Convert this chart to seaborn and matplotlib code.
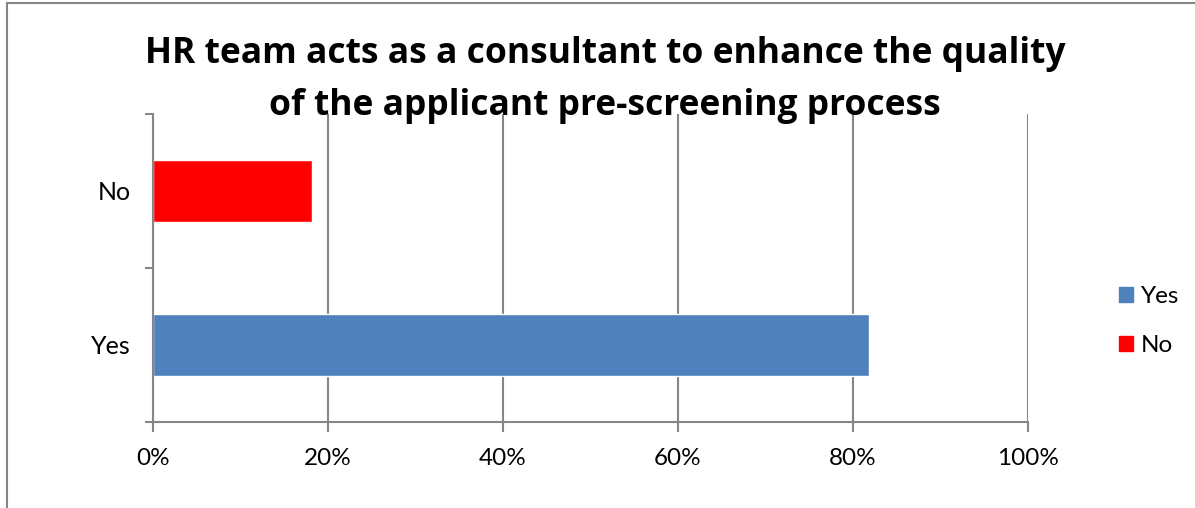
import matplotlib
matplotlib.use("Agg")
import matplotlib.pyplot as plt
import matplotlib.patches as patches
import seaborn as sns
import pandas as pd

# data
answers = ["No", "Yes"]
shares = [18.2, 81.8]
colors = {"Yes": "#4f81bd", "No": "#ff0000"}
x_ticks = [0, 20, 40, 60, 80, 100]
title = "HR team acts as a consultant to enhance the quality\nof the applicant pre-screening process"

df = pd.DataFrame({"answer": answers, "share": shares})

sns.set_style("white")
plt.rcParams['font.family'] = ['Lato', 'DejaVu Sans']
plt.rcParams['text.color'] = 'black'
plt.rcParams['xtick.labelcolor'] = 'black'
plt.rcParams['ytick.labelcolor'] = 'black'

fig = plt.figure(figsize=(11.95, 5.08), dpi=100)
ax = fig.add_axes([153 / 1195, 1 - 422 / 508, 875 / 1195, 308 / 508])

sns.barplot(data=df, y="answer", x="share", hue="answer", palette=colors,
            order=answers, hue_order=["Yes", "No"], dodge=False,
            width=0.4, orient="h", legend=False, ax=ax, saturation=1)

ax.set_xlim(0, 100)
ax.set_ylim(1.5, -0.5)
ax.set_xticks(x_ticks)
ax.set_xticklabels([f"{t}%" for t in x_ticks], fontsize=17.5)
ax.set_yticks([-0.5, 0.5, 1.5], minor=False)
ax.set_yticklabels([])
ax.set_yticks([0, 1], minor=True)
ax.set_yticklabels(answers, minor=True, fontsize=18)
ax.tick_params(axis="y", which="minor", length=0, pad=16)
ax.tick_params(axis="y", which="major", length=6, color="#868686", width=1.5, left=True)
ax.tick_params(axis="x", length=7, color="#868686", width=1.5, bottom=True, pad=12)
ax.set_xlabel("")
ax.set_ylabel("")

ax.grid(axis="x", color="#868686", linewidth=1.5)
ax.set_axisbelow(True)
for side in ["top", "right"]:
    ax.spines[side].set_visible(False)
for side in ["left", "bottom"]:
    ax.spines[side].set_color("#868686")
    ax.spines[side].set_linewidth(1.5)

fig.text(605 / 1195, 1 - 80 / 508, title, ha="center", va="center",
         fontsize=25.5, fontweight="bold", family=["Open Sans", "DejaVu Sans"],
         linespacing=1.58, color="black")

handles = [patches.Patch(color=colors["Yes"], label="Yes"),
           patches.Patch(color=colors["No"], label="No")]
fig.legend(handles=handles, loc="center left", bbox_to_anchor=(1097 / 1195, 1 - 321 / 508),
           frameon=False, fontsize=17.5, handlelength=0.6, handleheight=0.6,
           handletextpad=0.3, labelspacing=1.15)

# outer chart frame
fig.add_artist(patches.Rectangle((7 / 1195, -0.05), 1.1, 1 - 3 / 508 + 0.05,
                                 transform=fig.transFigure, fill=False,
                                 edgecolor="#868686", linewidth=1.5))

fig.savefig("out.png", dpi=100)
